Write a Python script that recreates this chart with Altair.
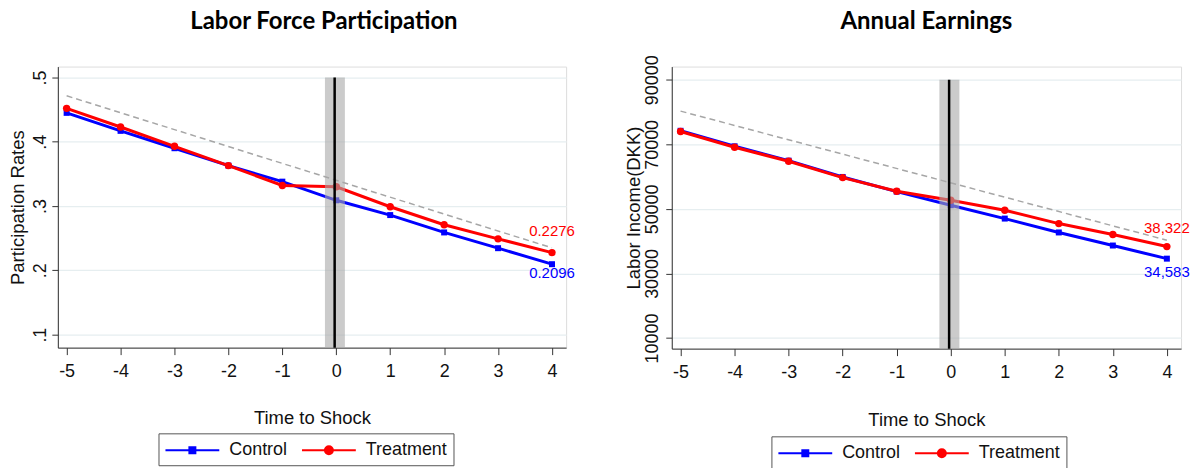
import altair as alt
import pandas as pd

# ---------------- data ----------------
t = [-5, -4, -3, -2, -1, 0, 1, 2, 3, 4]
series = ["Control", "Treatment"]
colors = ["#0000ff", "#ff0000"]

lfp_control = [0.445, 0.417, 0.390, 0.363, 0.338, 0.309, 0.286, 0.259, 0.2345, 0.2096]
lfp_treatment = [0.452, 0.423, 0.393, 0.363, 0.332, 0.330, 0.299, 0.271, 0.249, 0.2276]
lfp_trend = [0.4715, 0.235]
lfp_end_labels = ["0.2096", "0.2276"]
lfp_ticks = [0.1, 0.2, 0.3, 0.4, 0.5]

earn_control = [74200, 69400, 64950, 59900, 55350, 51150, 47000, 42700, 38650, 34583]
earn_treatment = [74000, 69100, 64750, 59700, 55450, 52700, 49600, 45450, 42050, 38322]
earn_trend = [80300, 40300]
earn_end_labels = ["34,583", "38,322"]
earn_ticks = [10000, 30000, 50000, 70000, 90000]

trend_t = [-5, 4]
shock_band = [-0.21, 0.16]
shock_at = -0.03

xdom = [-5.163, 4.262]

LABEL_FONT = "Liberation Sans"

sq_path = "M-2.7,0H2.7M-0.3,-0.3H0.3V0.3H-0.3Z"
ci_path = "M-2.7,0H2.7M0.4,0A0.4,0.4,0,1,1,-0.4,0A0.4,0.4,0,1,1,0.4,0Z"


def panel(title, ctrl, trt, trend, end_labels, ydom, yticks, ylab_expr, ytitle,
          width, height, title_dx, title_offset, ytitle_x, ylab_pad, xtitle_y, leg_x, leg_y,
          dy_red, dy_blue):
    xscale = alt.Scale(domain=xdom, nice=False, zero=False)
    yscale = alt.Scale(domain=ydom, nice=False, zero=False)
    xaxis = alt.Axis(values=t, labelExpr="datum.value + ''", tickSize=7,
                     labelPadding=17, labelBaseline="middle", labelFontSize=18,
                     labelFont=LABEL_FONT, labelColor="#111",
                     titleFont=LABEL_FONT, titleFontSize=18.5, titleFontWeight="normal",
                     titleColor="#111", titleY=xtitle_y, titleBaseline="middle",
                     grid=False, domainColor="#333", tickColor="#333")
    yaxis = alt.Axis(values=yticks, labelExpr=ylab_expr, labelAngle=270,
                     labelAlign="center", labelBaseline="middle", labelPadding=ylab_pad,
                     labelFontSize=18, labelFont=LABEL_FONT, labelColor="#111",
                     tickSize=6, grid=True, gridColor="#e6eef0", gridWidth=1.2,
                     domainColor="#333", tickColor="#333",
                     titleFont=LABEL_FONT, titleFontSize=18.5, titleFontWeight="normal",
                     titleColor="#111", titleX=ytitle_x, titleY=height / 2,
                     titleAngle=270, titleAlign="center", titleBaseline="middle")

    def X(f):
        return alt.X(f, type="quantitative", scale=xscale, axis=xaxis, title="Time to Shock")

    def Y(f):
        return alt.Y(f, type="quantitative", scale=yscale, axis=yaxis, title=ytitle)

    df = pd.DataFrame({"t": t + t, "v": ctrl + trt,
                       "series": [series[0]] * len(t) + [series[1]] * len(t)})
    tr = pd.DataFrame({"t": trend_t, "v": trend})
    ends = pd.DataFrame({"t": [t[-1], t[-1]], "v": [ctrl[-1], trt[-1]],
                         "label": end_labels, "series": series})
    band = pd.DataFrame({"t": [shock_band[0]], "t2": [shock_band[1]],
                         "v": [yticks[-1]], "v2": [ydom[0]]})
    vline = pd.DataFrame({"t": [shock_at], "v": [yticks[-1]], "v2": [ydom[0]]})

    base = alt.Chart(df)
    trend_l = alt.Chart(tr).mark_line(color="#a6a6a6", strokeDash=[6, 4], strokeWidth=1.5).encode(
        x=X("t"), y=Y("v"))
    c_line = base.transform_filter(alt.datum.series == series[0]).mark_line(
        color=colors[0], strokeWidth=3).encode(x=X("t"), y=Y("v"))
    c_pts = base.transform_filter(alt.datum.series == series[0]).mark_point(
        shape="square", filled=True, size=36, color=colors[0], opacity=1).encode(x=X("t"), y=Y("v"))
    t_line = base.transform_filter(alt.datum.series == series[1]).mark_line(
        color=colors[1], strokeWidth=3).encode(x=X("t"), y=Y("v"))
    t_pts = base.transform_filter(alt.datum.series == series[1]).mark_point(
        shape="circle", filled=True, size=55, color=colors[1], opacity=1).encode(x=X("t"), y=Y("v"))
    lab_c = alt.Chart(ends).transform_filter(alt.datum.series == series[0]).mark_text(
        color=colors[0], fontSize=15, font=LABEL_FONT, dy=dy_blue, baseline="middle",
        align="center").encode(x=X("t"), y=Y("v"), text="label:N")
    lab_t = alt.Chart(ends).transform_filter(alt.datum.series == series[1]).mark_text(
        color=colors[1], fontSize=15, font=LABEL_FONT, dy=dy_red, baseline="middle",
        align="center").encode(x=X("t"), y=Y("v"), text="label:N")
    band_l = alt.Chart(band).mark_rect(color="#a8a8a8", opacity=0.6).encode(
        x=X("t"), x2="t2", y=Y("v"), y2="v2")
    rule_l = alt.Chart(vline).mark_rule(color="#000000", strokeWidth=2.5).encode(
        x=X("t"), y=Y("v"), y2="v2")

    leg = alt.Legend(orient="none", legendX=leg_x, legendY=leg_y, direction="horizontal",
                     columns=2, title=None, symbolSize=400, symbolStrokeWidth=2,
                     symbolOffset=17, labelOffset=26, columnPadding=10, padding=6,
                     strokeColor="#555", labelFontSize=18, labelFont=LABEL_FONT,
                     labelColor="#111", symbolOpacity=1)
    legend_l = alt.Chart(pd.DataFrame({"series": series})).transform_filter("false").mark_point(
        filled=True, strokeWidth=2).encode(
        fill=alt.Fill("series:N", scale=alt.Scale(domain=series, range=colors), legend=leg),
        stroke=alt.Stroke("series:N", scale=alt.Scale(domain=series, range=colors), legend=leg),
        shape=alt.Shape("series:N", scale=alt.Scale(domain=series, range=[sq_path, ci_path]), legend=leg),
    )

    return alt.layer(trend_l, c_line, c_pts, t_line, t_pts, lab_c, lab_t, band_l, rule_l,
                     legend_l).properties(
        width=width, height=height,
        title=alt.TitleParams(title, font="Lato", fontSize=24, fontWeight="bold",
                              anchor="middle", frame="group", dx=title_dx, offset=title_offset,
                              color="#000"))


left = panel("Labor Force Participation", lfp_control, lfp_treatment, lfp_trend, lfp_end_labels,
             [0.0798, 0.517], lfp_ticks, "substring(format(datum.value, '.1f'), 1)",
             "Participation Rates", 510, 282, 12, 33, -40, 11, 70, 101, 368, -22, 9)
right = panel("Annual Earnings", earn_control, earn_treatment, earn_trend, earn_end_labels,
              [6700, 94100], earn_ticks, "format(datum.value, 'd')",
              "Labor Income(DKK)", 511, 283, 0, 21, -38, 13, 71, 100, 371, -19, 13)

chart = alt.hconcat(left, right, spacing=48).resolve_scale(
    x="independent", y="independent", fill="independent", stroke="independent",
    shape="independent").resolve_legend(fill="independent", stroke="independent",
                                        shape="independent").properties(padding=0).configure_view(
    stroke=None).configure(background="white")

chart.save("out.html", embed_options={"renderer": "svg", "actions": False})
